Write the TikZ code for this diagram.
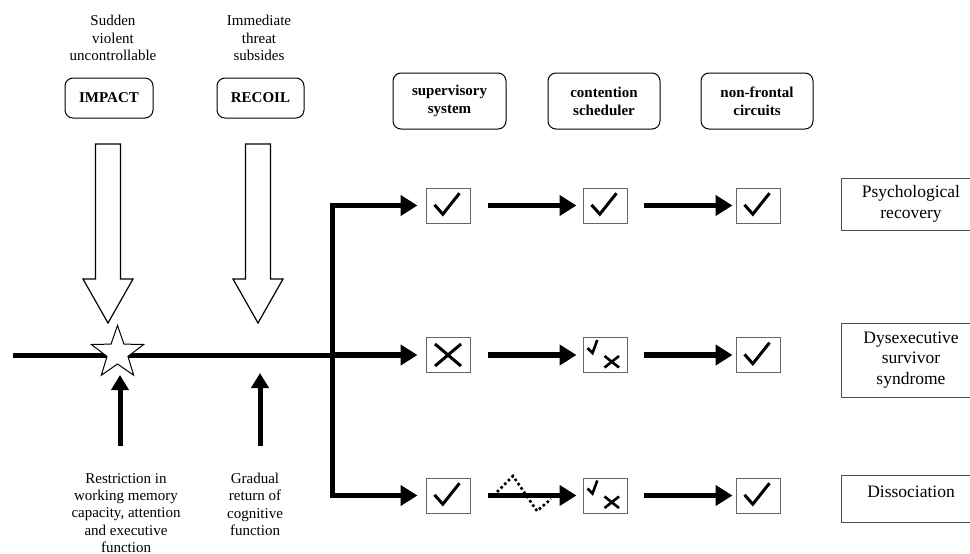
\documentclass[tikz,border=0pt]{standalone}
\usepackage{fontspec}
\setmainfont{Liberation Serif}
\usetikzlibrary{arrows.meta,shapes.geometric,calc}
\newcommand\ticksym[1]{\draw[mk] ([shift={(9,17.3)}]#1.north west) -- ++(8.3,9.4) -- ++(16.7,-21);}
\newcommand\crosssym[1]{\draw[mk] ([shift={(9.5,7)}]#1.north west) -- ++(26,22) ([shift={(35.5,7)}]#1.north west) -- ++(-26,22);}
\newcommand\mixsym[1]{\draw[mks] ([shift={(5,11)}]#1.north west) -- ++(5,5) -- ++(4.8,-13);
  \draw[mks] ([shift={(22,19)}]#1.north west) -- ++(14.5,11.5) ([shift={(36.5,19)}]#1.north west) -- ++(-14.5,11.5);}
\begin{document}
\begin{tikzpicture}[x=1pt,y=-1pt,
  note/.style={font=\fontsize{15}{17.3}\selectfont, align=center, inner sep=0pt},
  rlabel/.style={draw, rounded corners=8pt, line width=1pt, font=\bfseries\fontsize{15}{18}\selectfont, align=center},
  chkbox/.style={draw=black!60, line width=1pt, minimum width=44pt, minimum height=35pt, inner sep=0pt},
  outbox/.style={draw=black!70, line width=0.9pt, minimum width=140pt, inner sep=0pt, align=center, font=\fontsize{17.5}{20.5}\selectfont},
  hollow/.style={draw, line width=1.2pt, fill=white, line join=miter},
  heavy/.style={line width=5pt},
  flow/.style={line width=5.5pt, -{Triangle[length=17pt,width=20pt]}},
  upflow/.style={line width=5pt, -{Triangle[length=15pt,width=17pt]}},
  mk/.style={line width=3pt},
  mks/.style={line width=2.6pt},
]
\clip (0,0) rectangle (970,554);
\fill[white] (0,0) rectangle (970,554);

% top notes
\node[note] (n1) at (113,38) {Sudden\\violent\\uncontrollable};
\node[note] (n2) at (259,38) {Immediate\\threat\\subsides};

\node[rlabel, minimum width=88pt, minimum height=40pt] (impact) at (109,98) {IMPACT};
\node[rlabel, minimum width=87pt, minimum height=40pt] (recoil) at (260.5,98) {RECOIL};

\node[rlabel, minimum width=113pt, minimum height=56pt] (sup) at (449.5,101) {supervisory\\system};
\node[rlabel, minimum width=112pt, minimum height=56pt] (con) at (604,101) {contention\\scheduler};
\node[rlabel, minimum width=112pt, minimum height=56pt] (nfc) at (757,101) {non-frontal\\circuits};

% hollow arrows
\draw[hollow] (95.5,144) -- (120.5,144) -- (120.5,279) -- (133,279) -- (108,323) -- (83,279) -- (95.5,279) -- cycle;
\draw[hollow] (245.5,144) -- (270.5,144) -- (270.5,279) -- (283,279) -- (258,323) -- (233,279) -- (245.5,279) -- cycle;

% main line
\coordinate (start) at (13,355);
\coordinate (j) at (332.5,355);
\draw[heavy] (start) -- (j);
\node[star, star points=5, star point ratio=2.5, minimum size=55pt, inner sep=0pt, draw, fill=white, line width=1pt] (star) at (117.5,353) {};

% up arrows
\coordinate (u1) at (120,446); \coordinate (u1t) at (120,375);
\coordinate (u2) at (260,446); \coordinate (u2t) at (260,373);
\draw[upflow] (u1) -- (u1t);
\draw[upflow] (u2) -- (u2t);

% bottom notes
\node[note, anchor=north] (n3) at (126,473) {Restriction in\\working memory\\capacity, attention\\and executive\\function};
\node[note, anchor=north] (n4) at (255,473) {Gradual\\return of\\cognitive\\function};

% check boxes
\node[chkbox] (a1) at (448,205.5) {};
\node[chkbox] (b1) at (605,205.5) {};
\node[chkbox] (c1) at (758,205.5) {};
\node[chkbox] (a2) at (448,355) {};
\node[chkbox] (b2) at (605,355) {};
\node[chkbox] (c2) at (758,355) {};
\node[chkbox] (a3) at (448,495.5) {};
\node[chkbox] (b3) at (605,495.5) {};
\node[chkbox] (c3) at (758,495.5) {};

\ticksym{a1} \ticksym{b1} \ticksym{c1}
\crosssym{a2} \mixsym{b2} \ticksym{c2}
\ticksym{a3} \mixsym{b3} \ticksym{c3}

% branches
\draw[flow, shorten >=8pt] (j) |- (a1.west);
\draw[flow, shorten >=8pt] (j) -- (a2.west);
\draw[flow, shorten >=8pt] (j) |- (a3.west);

% dotted zigzag
\draw[line width=2.6pt, dash pattern=on 2.6pt off 2.6pt] (497,492) -- (513,476) -- (537,511) -- (551,499);

% row arrows
\foreach \r in {1,2,3}{
  \draw[flow, shorten <=17pt, shorten >=6pt] (a\r) -- (b\r);
  \draw[flow, shorten <=16pt, shorten >=3pt] (b\r) -- (c\r);
}

% outcome boxes
\node[outbox, minimum height=52pt] (o1) at (911,204) {Psychological\\recovery};
\node[outbox, minimum height=74pt] (o2) at (911,360) {Dysexecutive\\survivor\\syndrome};
\node[outbox, minimum height=47pt, text depth=13pt] (o3) at (911,498.5) {Dissociation};
\end{tikzpicture}
\end{document}
